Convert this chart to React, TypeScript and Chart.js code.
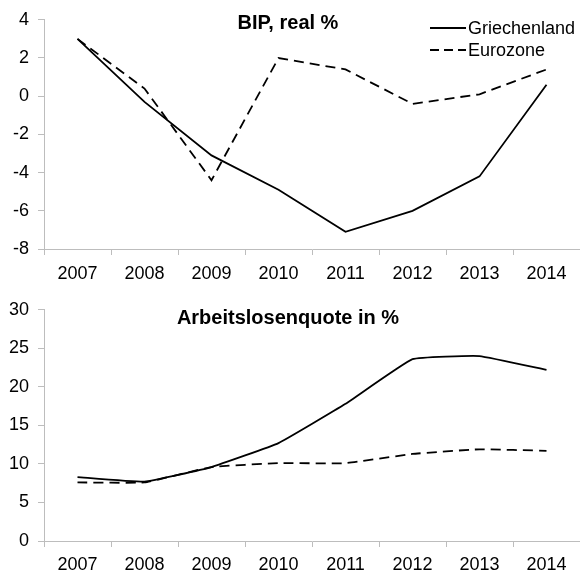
import React, { useEffect, useRef } from "react";
import { Chart, registerables } from "chart.js";

Chart.register(...registerables);

const years = ["2007", "2008", "2009", "2010", "2011", "2012", "2013", "2014"];
const bipGriechenland = [3.0, -0.3, -3.1, -4.9, -7.1, -6.0, -4.2, 0.6];
const bipEurozone = [3.0, 0.4, -4.4, 2.0, 1.4, -0.4, 0.1, 1.4];
const alqGriechenland = [8.3, 7.7, 9.6, 12.7, 17.8, 23.6, 24.0, 22.2];
const alqEurozone = [7.6, 7.6, 9.6, 10.1, 10.1, 11.3, 11.9, 11.7];
const seriesNames = ["Griechenland", "Eurozone"];
const topTitle = "BIP, real %";
const bottomTitle = "Arbeitslosenquote in %";

const FONT = "'Liberation Sans', Arial, sans-serif";
const AXIS = "#bdbdbd";
const DASH = [10, 6];

function titlePlugin(text: string, yPos: number) {
  return {
    id: "customTitle",
    afterDraw(chart: any) {
      const ctx = chart.ctx;
      ctx.save();
      ctx.font = `bold 20px ${FONT}`;
      ctx.fillStyle = "#000";
      ctx.textAlign = "center";
      ctx.textBaseline = "middle";
      ctx.fillText(text, 288, yPos);
      ctx.restore();
    },
  };
}

const legendPlugin = {
  id: "customLegend",
  afterDraw(chart: any) {
    const ctx = chart.ctx;
    ctx.save();
    ctx.font = `18px ${FONT}`;
    ctx.fillStyle = "#000";
    ctx.textAlign = "left";
    ctx.textBaseline = "middle";
    const rows = [
      { y: 28, dash: [] as number[] },
      { y: 50, dash: [9, 5] },
    ];
    rows.forEach((r, i) => {
      ctx.beginPath();
      ctx.setLineDash(r.dash);
      ctx.lineWidth = 1.8;
      ctx.strokeStyle = "#000";
      ctx.moveTo(430, r.y);
      ctx.lineTo(466, r.y);
      ctx.stroke();
      ctx.setLineDash([]);
      ctx.fillText(seriesNames[i], 468, r.y + 1);
    });
    ctx.restore();
  },
};

function makeOptions(min: number, max: number, step: number, xHeight: number, top: number, xPad: number) {
  return {
    responsive: true,
    maintainAspectRatio: false,
    animation: false as const,
    layout: { padding: { top, left: 0, right: 0, bottom: 0 } },
    plugins: { legend: { display: false }, tooltip: { enabled: false }, title: { display: false } },
    elements: { point: { radius: 0 } },
    scales: {
      x: {
        offset: true,
        grid: { display: true, offset: true, drawOnChartArea: false, drawTicks: true, tickLength: 6, color: AXIS },
        border: { display: true, color: AXIS, width: 1 },
        ticks: { color: "#000", font: { family: FONT, size: 18 }, padding: xPad, maxRotation: 0, autoSkip: false },
        afterFit: (s: any) => {
          s.height = xHeight;
        },
      },
      y: {
        min,
        max,
        ticks: { stepSize: step, color: "#000", font: { family: FONT, size: 18 }, padding: 9 },
        grid: { display: true, drawOnChartArea: false, drawTicks: true, tickLength: 6, color: AXIS },
        border: { display: true, color: AXIS, width: 1 },
        afterFit: (s: any) => {
          s.width = 44;
        },
      },
    },
  };
}

function TopChart() {
  const ref = useRef<HTMLCanvasElement>(null);
  useEffect(() => {
    const chart = new Chart(ref.current!, {
      type: "line",
      data: {
        labels: years,
        datasets: [
          { label: seriesNames[0], data: bipGriechenland, borderColor: "#000", borderWidth: 1.8, tension: 0, fill: false },
          { label: seriesNames[1], data: bipEurozone, borderColor: "#000", borderWidth: 1.8, borderDash: DASH, tension: 0, fill: false },
        ],
      },
      options: makeOptions(-8, 4, 2, 41, 16, 8) as any,
      plugins: [titlePlugin(topTitle, 23), legendPlugin],
    });
    return () => chart.destroy();
  }, []);
  return (
    <div style={{ position: "absolute", left: 0, top: 0, width: 580, height: 290 }}>
      <canvas ref={ref} />
    </div>
  );
}

function BottomChart() {
  const ref = useRef<HTMLCanvasElement>(null);
  useEffect(() => {
    const chart = new Chart(ref.current!, {
      type: "line",
      data: {
        labels: years,
        datasets: [
          { label: seriesNames[0], data: alqGriechenland, borderColor: "#000", borderWidth: 1.8, tension: 0.1, fill: false },
          { label: seriesNames[1], data: alqEurozone, borderColor: "#000", borderWidth: 1.8, borderDash: DASH, tension: 0.1, fill: false },
        ],
      },
      options: makeOptions(0, 30, 5, 33, 15, 7) as any,
      plugins: [titlePlugin(bottomTitle, 28)],
    });
    return () => chart.destroy();
  }, []);
  return (
    <div style={{ position: "absolute", left: 0, top: 290, width: 580, height: 284 }}>
      <canvas ref={ref} />
    </div>
  );
}

export default function App() {
  return (
    <div style={{ position: "fixed", left: 0, top: 0, width: 580, height: 574, background: "#fff" }}>
      <TopChart />
      <BottomChart />
    </div>
  );
}
